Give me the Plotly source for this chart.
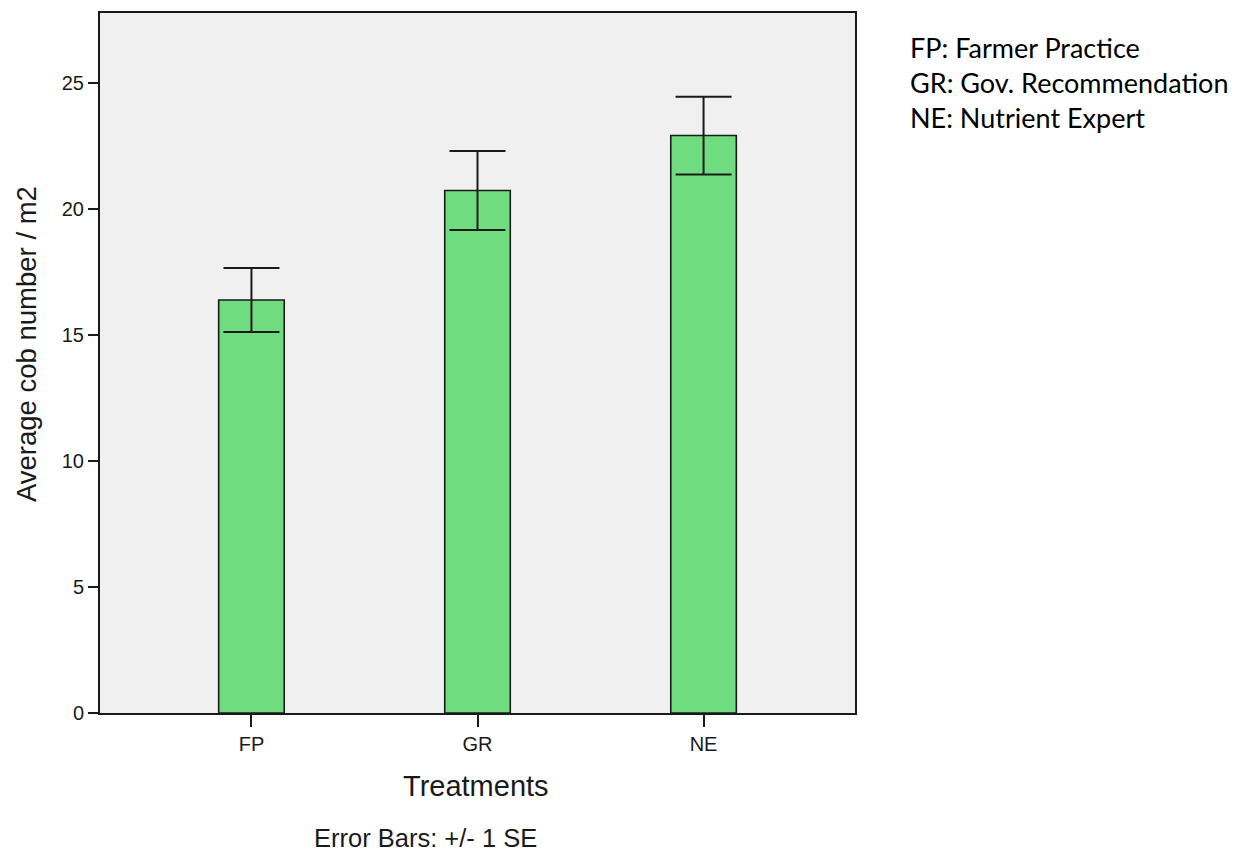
import plotly.graph_objects as go

categories = ["FP", "GR", "NE"]
means = [16.38, 20.72, 22.90]
se = [1.27, 1.57, 1.54]
y_ticks = [0, 5, 10, 15, 20, 25]
legend_lines = ["FP: Farmer Practice", "GR: Gov. Recommendation", "NE: Nutrient Expert"]

# The HTML page has an 8px body margin, so the figure is drawn 8px smaller
# on each side and everything is placed in page coordinates below.
PAGE_OFF = 8
PLOT_L, PLOT_R, PLOT_T, PLOT_B = 100, 855, 11, 713  # page pixels
FIG_W, FIG_H = 1244 - 2 * PAGE_OFF, 865 - 2 * PAGE_OFF


def px(x):
    return (x - PLOT_L) / (PLOT_R - PLOT_L)


def py(y):
    return (PLOT_B - y) / (PLOT_B - PLOT_T)


fig = go.Figure()
fig.add_trace(go.Bar(
    x=categories, y=means, width=0.29,
    marker=dict(color="#70dc80", line=dict(color="#1a1a1a", width=1.6)),
    error_y=dict(type="data", array=se, visible=True, color="#1a1a1a", thickness=2, width=28),
    showlegend=False,
))

axis_font = dict(family="Liberation Sans, Arial, sans-serif", color="#1a1a1a")

fig.update_layout(
    width=FIG_W, height=FIG_H,
    margin=dict(
        l=PLOT_L - PAGE_OFF,
        r=FIG_W - (PLOT_R - PAGE_OFF),
        t=PLOT_T - PAGE_OFF,
        b=FIG_H - (PLOT_B - PAGE_OFF),
    ),
    paper_bgcolor="white",
    plot_bgcolor="#f0f0f0",
    xaxis=dict(
        range=[-0.67, 2.67], showgrid=False, zeroline=False,
        showline=True, linecolor="#1a1a1a", linewidth=2, mirror=True,
        ticks="outside", ticklen=12, tickwidth=2, tickcolor="#1a1a1a",
        tickfont=dict(size=20, **axis_font),
    ),
    yaxis=dict(
        range=[0, 27.76], tickvals=y_ticks, showgrid=False, zeroline=False,
        showline=True, linecolor="#1a1a1a", linewidth=2, mirror=True,
        ticks="outside", ticklen=10, tickwidth=2, tickcolor="#1a1a1a",
        tickfont=dict(size=20, **axis_font),
    ),
)

fig.add_annotation(
    text="Average cob number / m2", xref="paper", yref="paper",
    x=px(26), y=py(343), xanchor="center", yanchor="middle", textangle=-90,
    showarrow=False, font=dict(size=27.5, **axis_font),
)

fig.add_annotation(
    text="Treatments", xref="paper", yref="paper",
    x=px(476), y=py(786), xanchor="center", yanchor="middle",
    showarrow=False, font=dict(size=29, **axis_font),
)

fig.add_annotation(
    text="Error Bars: +/- 1 SE", xref="paper", yref="paper",
    x=px(425), y=py(838), xanchor="center", yanchor="middle",
    showarrow=False, font=dict(size=25.5, **axis_font),
)

fig.add_annotation(
    text="<br>".join(legend_lines), xref="paper", yref="paper",
    x=px(908), y=py(27), xanchor="left", yanchor="top",
    align="left", showarrow=False,
    font=dict(family="Lato, Open Sans, sans-serif", size=27, color="#000000"),
)

fig.write_html("out.html")
